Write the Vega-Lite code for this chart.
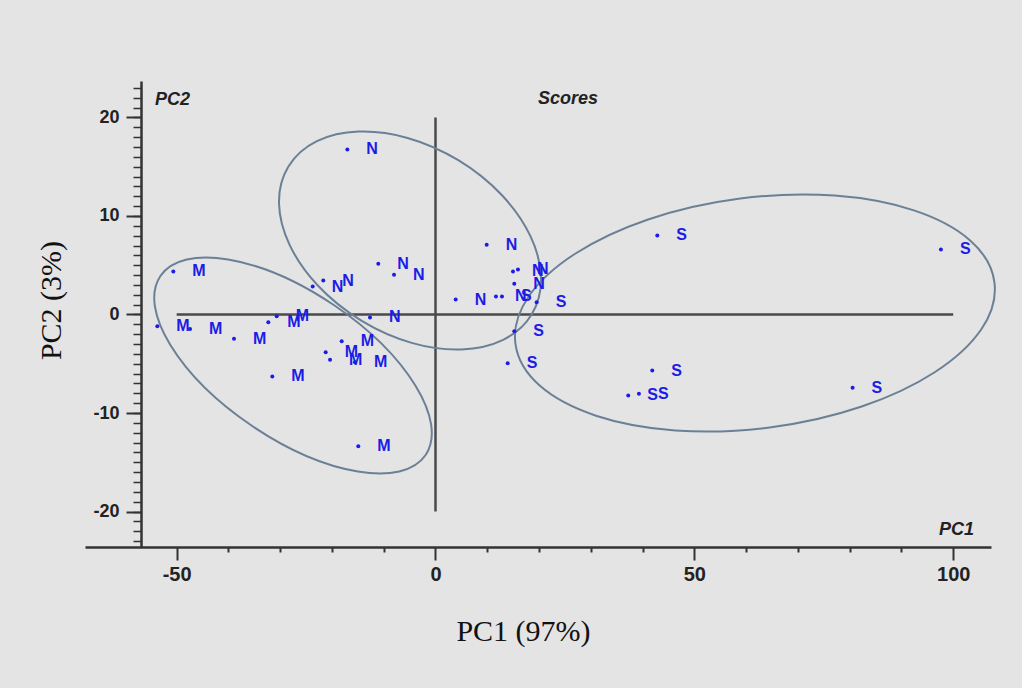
{
  "$schema": "https://vega.github.io/schema/vega-lite/v6.json",
  "autosize": "none",
  "width": 906,
  "height": 466,
  "padding": {"left": 85, "top": 81, "right": 31, "bottom": 141},
  "background": "#e4e4e4",
  "config": {"view": {"stroke": null}},
  "datasets": {
    "pts": [
      {"g": "N", "x": -17.03, "y": 16.75},
      {"g": "N", "x": -23.72, "y": 2.84},
      {"g": "N", "x": -21.67, "y": 3.45},
      {"g": "N", "x": -11.05, "y": 5.15},
      {"g": "N", "x": -8.01, "y": 4.03},
      {"g": "N", "x": -12.65, "y": -0.3},
      {"g": "N", "x": 3.9, "y": 1.52},
      {"g": "N", "x": 9.89, "y": 7.08},
      {"g": "N", "x": 11.68, "y": 1.83},
      {"g": "N", "x": 14.97, "y": 4.37},
      {"g": "N", "x": 15.93, "y": 4.57},
      {"g": "N", "x": 15.22, "y": 3.12},
      {"g": "S", "x": 12.84, "y": 1.83},
      {"g": "S", "x": 19.54, "y": 1.25},
      {"g": "S", "x": 15.22, "y": -1.7},
      {"g": "S", "x": 13.94, "y": -4.94},
      {"g": "S", "x": 42.84, "y": 8.02},
      {"g": "S", "x": 97.63, "y": 6.6},
      {"g": "S", "x": 80.57, "y": -7.44},
      {"g": "S", "x": 41.87, "y": -5.69},
      {"g": "S", "x": 37.23, "y": -8.22},
      {"g": "S", "x": 39.3, "y": -8.05},
      {"g": "M", "x": -50.64, "y": 4.37},
      {"g": "M", "x": -53.73, "y": -1.19},
      {"g": "M", "x": -47.41, "y": -1.47},
      {"g": "M", "x": -38.92, "y": -2.47},
      {"g": "M", "x": -32.29, "y": -0.78},
      {"g": "M", "x": -30.67, "y": -0.17},
      {"g": "M", "x": -31.52, "y": -6.29},
      {"g": "M", "x": -18.12, "y": -2.71},
      {"g": "M", "x": -21.21, "y": -3.83},
      {"g": "M", "x": -20.37, "y": -4.6},
      {"g": "M", "x": -15.55, "y": -4.84},
      {"g": "M", "x": -14.91, "y": -13.37}
    ],
    "ell": [
      {"g": "M", "x": -27.52, "y": -5.18},
      {"g": "N", "x": -4.92, "y": 7.51},
      {"g": "S", "x": 61.7, "y": 0.15}
    ],
    "zero": [
      {"x": -50, "x2": 100, "y": 0, "y2": 0},
      {"x": 0, "x2": 0, "y": -20, "y2": 20}
    ],
    "notes": [
      {"t": "PC2", "x": -54.17, "y": 21.8},
      {"t": "Scores", "x": 19.8, "y": 21.9},
      {"t": "PC1", "x": 97.24, "y": -21.9}
    ]
  },
  "resolve": {"axis": {"x": "independent", "y": "independent"}},
  "layer": [
    {
      "data": {"name": "zero"},
      "mark": {"type": "rule", "color": "#4a4a4a", "strokeWidth": 2.5},
      "encoding": {
        "x": {"field": "x", "type": "quantitative",
          "scale": {"domain": [-67.7, 107.3], "nice": false, "zero": false},
          "axis": {"orient": "bottom", "values": [-40, -30, -20, -10, 10, 20, 30, 40, 60, 70, 80, 90], "domain": false, "labels": false, "grid": false, "tickSize": 5, "tickWidth": 2, "tickColor": "#333333", "title": null}},
        "x2": {"field": "x2"},
        "y": {"field": "y", "type": "quantitative",
          "scale": {"domain": [-23.6, 23.7], "nice": false, "zero": false},
          "axis": {"orient": "left", "offset": -56, "values": [-23, -22, -21, -20, -19, -18, -17, -16, -15, -14, -13, -12, -11, -10, -9, -8, -7, -6, -5, -4, -3, -2, -1, 0, 1, 2, 3, 4, 5, 6, 7, 8, 9, 10, 11, 12, 13, 14, 15, 16, 17, 18, 19, 20, 21, 22, 23], "domain": false, "labels": false, "grid": false, "tickSize": 8, "tickWidth": 1.5, "tickColor": "#333333", "title": null}},
        "y2": {"field": "y2"}
      }
    },
    {
      "data": {"name": "ell"},
      "mark": {"type": "point", "filled": false, "color": "#6b8096", "strokeWidth": 2, "opacity": 1, "size": 4},
      "encoding": {
        "x": {"field": "x", "type": "quantitative", "scale": {"domain": [-67.7, 107.3], "nice": false, "zero": false}, "axis": null},
        "y": {"field": "y", "type": "quantitative", "scale": {"domain": [-23.6, 23.7], "nice": false, "zero": false}, "axis": null},
        "shape": {"field": "g", "type": "nominal", "legend": null,
          "scale": {"domain": ["M", "N", "S"], "range": [
            "M 132.6 89.5 A 160 73 34 0 1 -40.8 60.5 A 160 73 34 0 1 -132.6 -89.5 A 160 73 34 0 1 40.8 -60.5 A 160 73 34 0 1 132.6 89.5 Z",
            "M 121.6 73.9 A 142.3 93.7 31.3 0 1 -48.7 80.1 A 142.3 93.7 31.3 0 1 -121.6 -73.9 A 142.3 93.7 31.3 0 1 48.7 -80.1 A 142.3 93.7 31.3 0 1 121.6 73.9 Z",
            "M 239.5 -30.7 A 241.5 115.4 -7.3 0 1 14.7 114.5 A 241.5 115.4 -7.3 0 1 -239.5 30.7 A 241.5 115.4 -7.3 0 1 -14.7 -114.5 A 241.5 115.4 -7.3 0 1 239.5 -30.7 Z"
          ]}}
      }
    },
    {
      "data": {"name": "pts"},
      "mark": {"type": "point", "filled": true, "color": "#1c1ce6", "opacity": 1, "size": 16},
      "encoding": {
        "x": {"field": "x", "type": "quantitative",
          "scale": {"domain": [-67.7, 107.3], "nice": false, "zero": false},
          "axis": {"orient": "bottom", "values": [-50, 0, 50, 100], "labelExpr": "'' + datum.value", "grid": false,
            "domainColor": "#333333", "domainWidth": 2.5, "tickColor": "#333333", "tickWidth": 2, "tickSize": 13,
            "labelFont": "Liberation Sans Narrow, Arial Narrow, Liberation Sans, sans-serif", "labelFontWeight": "bold", "labelFontSize": 20, "labelColor": "#222222", "labelPadding": 4,
            "title": "PC1 (97%)", "titleFont": "Liberation Serif, Times New Roman, serif", "titleFontSize": 30, "titleFontWeight": "normal", "titleColor": "#111111",
            "titleX": 438, "titleY": 84, "titleAlign": "center", "titleBaseline": "middle"}},
        "y": {"field": "y", "type": "quantitative",
          "scale": {"domain": [-23.6, 23.7], "nice": false, "zero": false},
          "axis": {"orient": "left", "offset": -56, "values": [-20, -10, 0, 10, 20], "labelExpr": "'' + datum.value", "grid": false,
            "domainColor": "#333333", "domainWidth": 2.5, "tickColor": "#333333", "tickWidth": 2, "tickSize": 15,
            "labelFont": "Liberation Sans Narrow, Arial Narrow, Liberation Sans, sans-serif", "labelFontWeight": "bold", "labelFontSize": 18, "labelColor": "#222222", "labelPadding": 7,
            "title": "PC2 (3%)", "titleFont": "Liberation Serif, Times New Roman, serif", "titleFontSize": 30, "titleFontWeight": "normal", "titleColor": "#111111",
            "titleX": -90, "titleY": 219, "titleAngle": -90, "titleAlign": "center", "titleBaseline": "middle"}}
      }
    },
    {
      "data": {"name": "pts"},
      "mark": {"type": "text", "align": "left", "baseline": "middle", "dx": 19, "font": "Liberation Sans Narrow, Arial Narrow, Liberation Sans, sans-serif", "fontWeight": "bold", "fontSize": 16, "color": "#1c1ce6"},
      "encoding": {
        "x": {"field": "x", "type": "quantitative", "scale": {"domain": [-67.7, 107.3], "nice": false, "zero": false}, "axis": null},
        "y": {"field": "y", "type": "quantitative", "scale": {"domain": [-23.6, 23.7], "nice": false, "zero": false}, "axis": null},
        "text": {"field": "g"}
      }
    },
    {
      "data": {"name": "notes"},
      "mark": {"type": "text", "align": "left", "baseline": "middle", "font": "Liberation Sans Narrow, Arial Narrow, Liberation Sans, sans-serif", "fontWeight": "bold", "fontStyle": "italic", "fontSize": 18, "color": "#222222"},
      "encoding": {
        "x": {"field": "x", "type": "quantitative", "scale": {"domain": [-67.7, 107.3], "nice": false, "zero": false}, "axis": null},
        "y": {"field": "y", "type": "quantitative", "scale": {"domain": [-23.6, 23.7], "nice": false, "zero": false}, "axis": null},
        "text": {"field": "t"}
      }
    }
  ]
}
